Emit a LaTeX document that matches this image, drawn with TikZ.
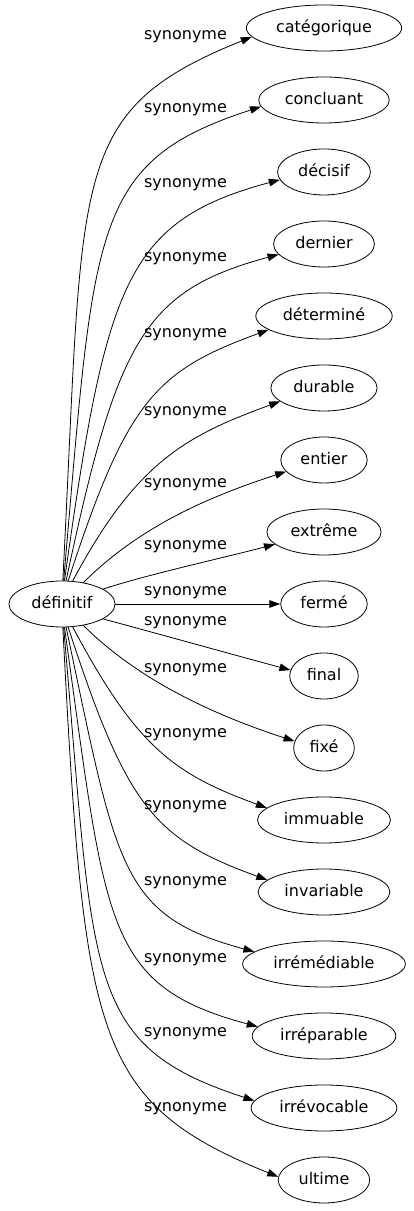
\documentclass[tikz,border=0pt]{standalone}
\usepackage{fontspec}
\setmainfont{DejaVu Sans}
\usetikzlibrary{arrows.meta, shapes.geometric}

\begin{document}
\begin{tikzpicture}[x=1pt, y=1pt,
    word/.style={draw, ellipse, line width=0.8pt, inner xsep=7pt, inner ysep=2pt, minimum height=46pt, text height=12pt, text depth=3.5pt, font=\fontsize{16}{19}\selectfont},
    rel/.style={inner sep=0pt, font=\fontsize{16}{19}\selectfont},
    syn/.style={-{Triangle[length=11pt, width=7.5pt]}, line width=0.8pt}]
        \useasboundingbox (0, 0) rectangle (413, 1211);

        \node [word] (D) at (62, 607) {définitif};

        \node [word] (S1) at (324, 1183) {catégorique};
        \node [word] (S2) at (324, 1111) {concluant};
        \node [word] (S3) at (324, 1039) {décisif};
        \node [word] (S4) at (324, 967) {dernier};
        \node [word] (S5) at (324, 895) {déterminé};
        \node [word] (S6) at (324, 823) {durable};
        \node [word] (S7) at (324, 751) {entier};
        \node [word] (S8) at (324, 679) {extrême};
        \node [word] (S9) at (324, 607) {fermé};
        \node [word] (S10) at (324, 535) {final};
        \node [word] (S11) at (324, 463) {fixé};
        \node [word] (S12) at (324, 391) {immuable};
        \node [word] (S13) at (324, 319) {invariable};
        \node [word] (S14) at (324, 247) {irrémédiable};
        \node [word] (S15) at (324, 175) {irréparable};
        \node [word] (S16) at (324, 103) {irrévocable};
        \node [word] (S17) at (324, 31) {ultime};

        % upper half
        \draw [syn] (D.88) to [out=87, in=202, out distance=410, in distance=200] (S1.187);
        \draw [syn] (D.86) to [out=85, in=198, out distance=355, in distance=180] (S2.186);
        \draw [syn] (D.84) to [out=82, in=195, out distance=300, in distance=160] (S3.190);
        \draw [syn] (D.80) to [out=78, in=195, out distance=245, in distance=140] (S4.193);
        \draw [syn] (D.75) to [out=72, in=200, out distance=190, in distance=120] (S5.194);
        \draw [syn] (D.65) to [out=62, in=200, out distance=135, in distance=100] (S6.197);
        \draw [syn] (D.45) to [out=45, in=198, out distance=80, in distance=80] (S7.197);
        \draw [syn] (D.20) to [out=18, in=195, out distance=50, in distance=50] (S8.194);
        \draw [syn] (D.east) -- (S9.west);
        % lower half
        \draw [syn] (D.-20) to [out=-15, in=165, out distance=50, in distance=50] (S10.170);
        \draw [syn] (D.-45) to [out=-45, in=162, out distance=80, in distance=80] (S11.167);
        \draw [syn] (D.-65) to [out=-62, in=160, out distance=135, in distance=100] (S12.168);
        \draw [syn] (D.-75) to [out=-72, in=160, out distance=190, in distance=120] (S13.168);
        \draw [syn] (D.-80) to [out=-78, in=165, out distance=245, in distance=140] (S14.170);
        \draw [syn] (D.-84) to [out=-82, in=165, out distance=300, in distance=160] (S15.172);
        \draw [syn] (D.-86) to [out=-85, in=162, out distance=355, in distance=180] (S16.174);
        \draw [syn] (D.-88) to [out=-87, in=158, out distance=410, in distance=200] (S17.176);

        \node [rel] (L1) at (185.5, 1174) {synonyme};
        \node [rel] (L2) at (185.5, 1101) {synonyme};
        \node [rel] (L3) at (185.5, 1026) {synonyme};
        \node [rel] (L4) at (185.5, 952) {synonyme};
        \node [rel] (L5) at (185.5, 876) {synonyme};
        \node [rel] (L6) at (185.5, 798) {synonyme};
        \node [rel] (L7) at (185.5, 726) {synonyme};
        \node [rel] (L8) at (185.5, 664) {synonyme};
        \node [rel] (L9) at (185.5, 618) {synonyme};
        \node [rel] (L10) at (185.5, 588) {synonyme};
        \node [rel] (L11) at (185.5, 541) {synonyme};
        \node [rel] (L12) at (185.5, 476) {synonyme};
        \node [rel] (L13) at (185.5, 404) {synonyme};
        \node [rel] (L14) at (185.5, 328) {synonyme};
        \node [rel] (L15) at (185.5, 251) {synonyme};
        \node [rel] (L16) at (185.5, 177) {synonyme};
        \node [rel] (L17) at (185.5, 102) {synonyme};
      \end{tikzpicture}
\end{document}
